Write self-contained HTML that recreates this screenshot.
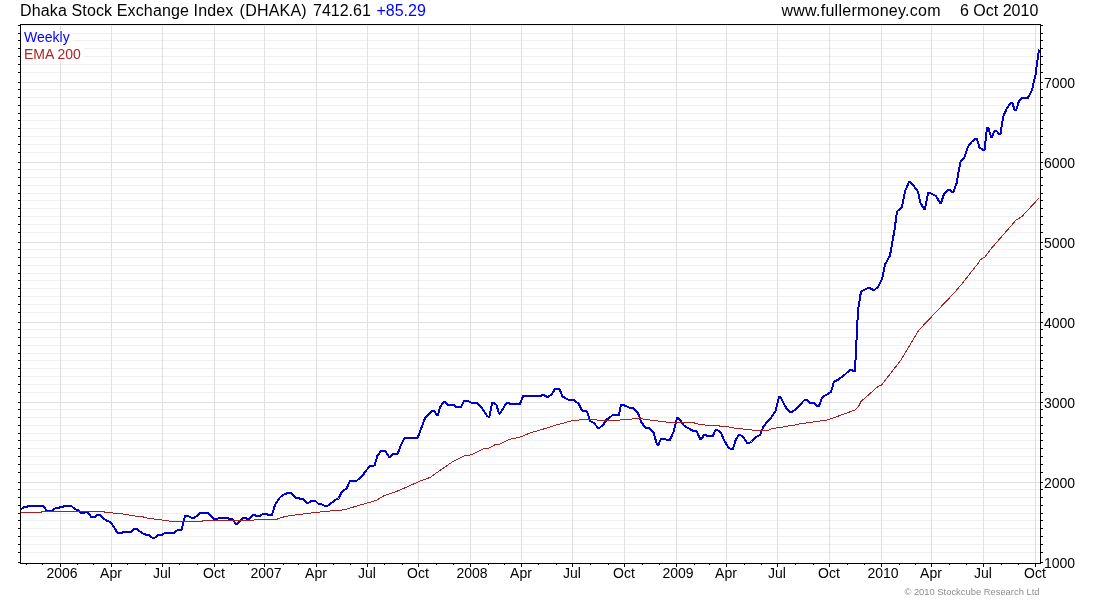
<!DOCTYPE html>
<html lang="en"><head><meta charset="utf-8"><title>Dhaka Stock Exchange Index (DHAKA)</title>
<style>html,body{margin:0;padding:0;background:#fff}body{width:1100px;height:600px;overflow:hidden}svg{display:block}text{font-family:"Liberation Sans",sans-serif}</style>
</head><body>
<svg width="1100" height="600" viewBox="0 0 1100 600">
<rect width="1100" height="600" fill="#fff"/>
<g shape-rendering="crispEdges">
<g fill="#efefef">
<rect x="21" y="25" width="1019" height="1"/>
<rect x="21" y="33" width="1019" height="1"/>
<rect x="21" y="40" width="1019" height="1"/>
<rect x="21" y="48" width="1019" height="1"/>
<rect x="21" y="56" width="1019" height="1"/>
<rect x="21" y="64" width="1019" height="1"/>
<rect x="21" y="72" width="1019" height="1"/>
<rect x="21" y="89" width="1019" height="1"/>
<rect x="21" y="97" width="1019" height="1"/>
<rect x="21" y="105" width="1019" height="1"/>
<rect x="21" y="113" width="1019" height="1"/>
<rect x="21" y="120" width="1019" height="1"/>
<rect x="21" y="128" width="1019" height="1"/>
<rect x="21" y="136" width="1019" height="1"/>
<rect x="21" y="144" width="1019" height="1"/>
<rect x="21" y="152" width="1019" height="1"/>
<rect x="21" y="169" width="1019" height="1"/>
<rect x="21" y="177" width="1019" height="1"/>
<rect x="21" y="185" width="1019" height="1"/>
<rect x="21" y="193" width="1019" height="1"/>
<rect x="21" y="200" width="1019" height="1"/>
<rect x="21" y="208" width="1019" height="1"/>
<rect x="21" y="216" width="1019" height="1"/>
<rect x="21" y="224" width="1019" height="1"/>
<rect x="21" y="232" width="1019" height="1"/>
<rect x="21" y="249" width="1019" height="1"/>
<rect x="21" y="257" width="1019" height="1"/>
<rect x="21" y="265" width="1019" height="1"/>
<rect x="21" y="273" width="1019" height="1"/>
<rect x="21" y="280" width="1019" height="1"/>
<rect x="21" y="288" width="1019" height="1"/>
<rect x="21" y="296" width="1019" height="1"/>
<rect x="21" y="304" width="1019" height="1"/>
<rect x="21" y="312" width="1019" height="1"/>
<rect x="21" y="329" width="1019" height="1"/>
<rect x="21" y="337" width="1019" height="1"/>
<rect x="21" y="345" width="1019" height="1"/>
<rect x="21" y="353" width="1019" height="1"/>
<rect x="21" y="360" width="1019" height="1"/>
<rect x="21" y="368" width="1019" height="1"/>
<rect x="21" y="376" width="1019" height="1"/>
<rect x="21" y="384" width="1019" height="1"/>
<rect x="21" y="392" width="1019" height="1"/>
<rect x="21" y="409" width="1019" height="1"/>
<rect x="21" y="417" width="1019" height="1"/>
<rect x="21" y="425" width="1019" height="1"/>
<rect x="21" y="433" width="1019" height="1"/>
<rect x="21" y="440" width="1019" height="1"/>
<rect x="21" y="448" width="1019" height="1"/>
<rect x="21" y="456" width="1019" height="1"/>
<rect x="21" y="464" width="1019" height="1"/>
<rect x="21" y="472" width="1019" height="1"/>
<rect x="21" y="489" width="1019" height="1"/>
<rect x="21" y="497" width="1019" height="1"/>
<rect x="21" y="505" width="1019" height="1"/>
<rect x="21" y="513" width="1019" height="1"/>
<rect x="21" y="520" width="1019" height="1"/>
<rect x="21" y="528" width="1019" height="1"/>
<rect x="21" y="536" width="1019" height="1"/>
<rect x="21" y="544" width="1019" height="1"/>
<rect x="21" y="552" width="1019" height="1"/>
</g><g fill="#e2e2e2">
<rect x="21" y="82" width="1019" height="1"/>
<rect x="21" y="162" width="1019" height="1"/>
<rect x="21" y="242" width="1019" height="1"/>
<rect x="21" y="322" width="1019" height="1"/>
<rect x="21" y="402" width="1019" height="1"/>
<rect x="21" y="482" width="1019" height="1"/>
</g><g fill="#e0e0e0">
<rect x="60" y="25" width="1" height="537"/>
<rect x="111" y="25" width="1" height="537"/>
<rect x="162" y="25" width="1" height="537"/>
<rect x="214" y="25" width="1" height="537"/>
<rect x="264" y="25" width="1" height="537"/>
<rect x="316" y="25" width="1" height="537"/>
<rect x="367" y="25" width="1" height="537"/>
<rect x="418" y="25" width="1" height="537"/>
<rect x="470" y="25" width="1" height="537"/>
<rect x="521" y="25" width="1" height="537"/>
<rect x="572" y="25" width="1" height="537"/>
<rect x="624" y="25" width="1" height="537"/>
<rect x="676" y="25" width="1" height="537"/>
<rect x="726" y="25" width="1" height="537"/>
<rect x="777" y="25" width="1" height="537"/>
<rect x="829" y="25" width="1" height="537"/>
<rect x="881" y="25" width="1" height="537"/>
<rect x="931" y="25" width="1" height="537"/>
<rect x="983" y="25" width="1" height="537"/>
<rect x="1035" y="25" width="1" height="537"/>
</g>
<rect x="22" y="30" width="51" height="14" fill="#fff"/>
<rect x="22" y="46" width="62" height="15" fill="#fff"/>
<g fill="#000">
<rect x="20" y="24" width="1021" height="1"/>
<rect x="20" y="563" width="1021" height="1"/>
<rect x="20" y="24" width="1" height="540"/>
<rect x="1040" y="24" width="1" height="540"/>
<rect x="18" y="25" width="2" height="1"/>
<rect x="1041" y="25" width="2" height="1"/>
<rect x="18" y="33" width="2" height="1"/>
<rect x="1041" y="33" width="2" height="1"/>
<rect x="18" y="40" width="2" height="1"/>
<rect x="1041" y="40" width="2" height="1"/>
<rect x="18" y="48" width="2" height="1"/>
<rect x="1041" y="48" width="2" height="1"/>
<rect x="18" y="56" width="2" height="1"/>
<rect x="1041" y="56" width="2" height="1"/>
<rect x="18" y="64" width="2" height="1"/>
<rect x="1041" y="64" width="2" height="1"/>
<rect x="18" y="72" width="2" height="1"/>
<rect x="1041" y="72" width="2" height="1"/>
<rect x="18" y="89" width="2" height="1"/>
<rect x="1041" y="89" width="2" height="1"/>
<rect x="18" y="97" width="2" height="1"/>
<rect x="1041" y="97" width="2" height="1"/>
<rect x="18" y="105" width="2" height="1"/>
<rect x="1041" y="105" width="2" height="1"/>
<rect x="18" y="113" width="2" height="1"/>
<rect x="1041" y="113" width="2" height="1"/>
<rect x="18" y="120" width="2" height="1"/>
<rect x="1041" y="120" width="2" height="1"/>
<rect x="18" y="128" width="2" height="1"/>
<rect x="1041" y="128" width="2" height="1"/>
<rect x="18" y="136" width="2" height="1"/>
<rect x="1041" y="136" width="2" height="1"/>
<rect x="18" y="144" width="2" height="1"/>
<rect x="1041" y="144" width="2" height="1"/>
<rect x="18" y="152" width="2" height="1"/>
<rect x="1041" y="152" width="2" height="1"/>
<rect x="18" y="169" width="2" height="1"/>
<rect x="1041" y="169" width="2" height="1"/>
<rect x="18" y="177" width="2" height="1"/>
<rect x="1041" y="177" width="2" height="1"/>
<rect x="18" y="185" width="2" height="1"/>
<rect x="1041" y="185" width="2" height="1"/>
<rect x="18" y="193" width="2" height="1"/>
<rect x="1041" y="193" width="2" height="1"/>
<rect x="18" y="200" width="2" height="1"/>
<rect x="1041" y="200" width="2" height="1"/>
<rect x="18" y="208" width="2" height="1"/>
<rect x="1041" y="208" width="2" height="1"/>
<rect x="18" y="216" width="2" height="1"/>
<rect x="1041" y="216" width="2" height="1"/>
<rect x="18" y="224" width="2" height="1"/>
<rect x="1041" y="224" width="2" height="1"/>
<rect x="18" y="232" width="2" height="1"/>
<rect x="1041" y="232" width="2" height="1"/>
<rect x="18" y="249" width="2" height="1"/>
<rect x="1041" y="249" width="2" height="1"/>
<rect x="18" y="257" width="2" height="1"/>
<rect x="1041" y="257" width="2" height="1"/>
<rect x="18" y="265" width="2" height="1"/>
<rect x="1041" y="265" width="2" height="1"/>
<rect x="18" y="273" width="2" height="1"/>
<rect x="1041" y="273" width="2" height="1"/>
<rect x="18" y="280" width="2" height="1"/>
<rect x="1041" y="280" width="2" height="1"/>
<rect x="18" y="288" width="2" height="1"/>
<rect x="1041" y="288" width="2" height="1"/>
<rect x="18" y="296" width="2" height="1"/>
<rect x="1041" y="296" width="2" height="1"/>
<rect x="18" y="304" width="2" height="1"/>
<rect x="1041" y="304" width="2" height="1"/>
<rect x="18" y="312" width="2" height="1"/>
<rect x="1041" y="312" width="2" height="1"/>
<rect x="18" y="329" width="2" height="1"/>
<rect x="1041" y="329" width="2" height="1"/>
<rect x="18" y="337" width="2" height="1"/>
<rect x="1041" y="337" width="2" height="1"/>
<rect x="18" y="345" width="2" height="1"/>
<rect x="1041" y="345" width="2" height="1"/>
<rect x="18" y="353" width="2" height="1"/>
<rect x="1041" y="353" width="2" height="1"/>
<rect x="18" y="360" width="2" height="1"/>
<rect x="1041" y="360" width="2" height="1"/>
<rect x="18" y="368" width="2" height="1"/>
<rect x="1041" y="368" width="2" height="1"/>
<rect x="18" y="376" width="2" height="1"/>
<rect x="1041" y="376" width="2" height="1"/>
<rect x="18" y="384" width="2" height="1"/>
<rect x="1041" y="384" width="2" height="1"/>
<rect x="18" y="392" width="2" height="1"/>
<rect x="1041" y="392" width="2" height="1"/>
<rect x="18" y="409" width="2" height="1"/>
<rect x="1041" y="409" width="2" height="1"/>
<rect x="18" y="417" width="2" height="1"/>
<rect x="1041" y="417" width="2" height="1"/>
<rect x="18" y="425" width="2" height="1"/>
<rect x="1041" y="425" width="2" height="1"/>
<rect x="18" y="433" width="2" height="1"/>
<rect x="1041" y="433" width="2" height="1"/>
<rect x="18" y="440" width="2" height="1"/>
<rect x="1041" y="440" width="2" height="1"/>
<rect x="18" y="448" width="2" height="1"/>
<rect x="1041" y="448" width="2" height="1"/>
<rect x="18" y="456" width="2" height="1"/>
<rect x="1041" y="456" width="2" height="1"/>
<rect x="18" y="464" width="2" height="1"/>
<rect x="1041" y="464" width="2" height="1"/>
<rect x="18" y="472" width="2" height="1"/>
<rect x="1041" y="472" width="2" height="1"/>
<rect x="18" y="489" width="2" height="1"/>
<rect x="1041" y="489" width="2" height="1"/>
<rect x="18" y="497" width="2" height="1"/>
<rect x="1041" y="497" width="2" height="1"/>
<rect x="18" y="505" width="2" height="1"/>
<rect x="1041" y="505" width="2" height="1"/>
<rect x="18" y="513" width="2" height="1"/>
<rect x="1041" y="513" width="2" height="1"/>
<rect x="18" y="520" width="2" height="1"/>
<rect x="1041" y="520" width="2" height="1"/>
<rect x="18" y="528" width="2" height="1"/>
<rect x="1041" y="528" width="2" height="1"/>
<rect x="18" y="536" width="2" height="1"/>
<rect x="1041" y="536" width="2" height="1"/>
<rect x="18" y="544" width="2" height="1"/>
<rect x="1041" y="544" width="2" height="1"/>
<rect x="18" y="552" width="2" height="1"/>
<rect x="1041" y="552" width="2" height="1"/>
<rect x="18" y="82" width="2" height="1"/>
<rect x="1041" y="82" width="2" height="1"/>
<rect x="18" y="162" width="2" height="1"/>
<rect x="1041" y="162" width="2" height="1"/>
<rect x="18" y="242" width="2" height="1"/>
<rect x="1041" y="242" width="2" height="1"/>
<rect x="18" y="322" width="2" height="1"/>
<rect x="1041" y="322" width="2" height="1"/>
<rect x="18" y="402" width="2" height="1"/>
<rect x="1041" y="402" width="2" height="1"/>
<rect x="18" y="482" width="2" height="1"/>
<rect x="1041" y="482" width="2" height="1"/>
<rect x="18" y="562" width="2" height="1"/>
<rect x="1041" y="562" width="2" height="1"/>
<rect x="26" y="564" width="1" height="1"/>
<rect x="42" y="564" width="1" height="1"/>
<rect x="77" y="564" width="1" height="1"/>
<rect x="93" y="564" width="1" height="1"/>
<rect x="127" y="564" width="1" height="1"/>
<rect x="145" y="564" width="1" height="1"/>
<rect x="179" y="564" width="1" height="1"/>
<rect x="197" y="564" width="1" height="1"/>
<rect x="231" y="564" width="1" height="1"/>
<rect x="248" y="564" width="1" height="1"/>
<rect x="283" y="564" width="1" height="1"/>
<rect x="298" y="564" width="1" height="1"/>
<rect x="333" y="564" width="1" height="1"/>
<rect x="350" y="564" width="1" height="1"/>
<rect x="384" y="564" width="1" height="1"/>
<rect x="402" y="564" width="1" height="1"/>
<rect x="436" y="564" width="1" height="1"/>
<rect x="453" y="564" width="1" height="1"/>
<rect x="488" y="564" width="1" height="1"/>
<rect x="504" y="564" width="1" height="1"/>
<rect x="538" y="564" width="1" height="1"/>
<rect x="556" y="564" width="1" height="1"/>
<rect x="590" y="564" width="1" height="1"/>
<rect x="608" y="564" width="1" height="1"/>
<rect x="642" y="564" width="1" height="1"/>
<rect x="659" y="564" width="1" height="1"/>
<rect x="694" y="564" width="1" height="1"/>
<rect x="709" y="564" width="1" height="1"/>
<rect x="744" y="564" width="1" height="1"/>
<rect x="761" y="564" width="1" height="1"/>
<rect x="795" y="564" width="1" height="1"/>
<rect x="813" y="564" width="1" height="1"/>
<rect x="847" y="564" width="1" height="1"/>
<rect x="864" y="564" width="1" height="1"/>
<rect x="899" y="564" width="1" height="1"/>
<rect x="915" y="564" width="1" height="1"/>
<rect x="949" y="564" width="1" height="1"/>
<rect x="966" y="564" width="1" height="1"/>
<rect x="1001" y="564" width="1" height="1"/>
<rect x="1018" y="564" width="1" height="1"/>
<rect x="60" y="564" width="1" height="3"/>
<rect x="111" y="564" width="1" height="3"/>
<rect x="162" y="564" width="1" height="3"/>
<rect x="214" y="564" width="1" height="3"/>
<rect x="264" y="564" width="1" height="3"/>
<rect x="316" y="564" width="1" height="3"/>
<rect x="367" y="564" width="1" height="3"/>
<rect x="418" y="564" width="1" height="3"/>
<rect x="470" y="564" width="1" height="3"/>
<rect x="521" y="564" width="1" height="3"/>
<rect x="572" y="564" width="1" height="3"/>
<rect x="624" y="564" width="1" height="3"/>
<rect x="676" y="564" width="1" height="3"/>
<rect x="726" y="564" width="1" height="3"/>
<rect x="777" y="564" width="1" height="3"/>
<rect x="829" y="564" width="1" height="3"/>
<rect x="881" y="564" width="1" height="3"/>
<rect x="931" y="564" width="1" height="3"/>
<rect x="983" y="564" width="1" height="3"/>
<rect x="1035" y="564" width="1" height="3"/>
</g>
<polyline points="21,509.5 24,506.8 27.5,506.8 28,506 43.5,506 46.5,510.5 52.5,510.5 55.5,508.2 59,508 60.5,507 63.5,506.8 64,506 71.5,506 75,509.3 79,510.5 81,512.8 84,513 86.5,512 88,512.5 91,516.8 95,516.8 97.5,514.8 99.5,514.8 105.5,520 111,522.5 117.5,533 122,533 123,532 131,532 133.5,529 136.5,529 142,533 146,534.8 149,535 152.5,538 154.5,538 158,535 162,535 164.5,533 174,533 177.5,530 181.5,529.8 183.5,522 185,516.2 188,516 192,518 194,518 200.5,513 208,513 214,519 217,519.2 218.5,518 227.5,518 229,519 232.5,519 236,524 237.5,524 241.5,519 243.5,518 246,518 247.5,519 249,519 252.5,515 255,515 256.5,516 260,516 262.5,514 267,514 268.5,515 272,515 275,505 279,498.5 281,496.5 284,494.5 288,493 291,493.2 296,498 299,498 300.5,499 303,499 307,503 308.5,502.8 311,501 315.5,501 318.5,504 321,504 324.5,505.8 328.5,505.5 335,500 338.5,498.5 342,491.5 346.5,488.5 350,481 357,480.5 363,475 366,470.5 370.5,465.8 374.5,465.5 377.5,455.5 381,451 385,450.5 389,457 390.5,456.8 393,454 397.5,454 401,445 404.5,438 417.5,438 421,429 425,418 432,411 434,411 437,415 438,414.8 440,407 443.5,402 445.5,402.2 448,404.8 453.5,404.8 456,407 461,407 464,401 468,400.8 470.5,402.5 477,402.8 482,408 487.5,416.5 489.5,416.5 492,403 494,403 496.5,405 499,413.5 500,413.5 506.5,403 508.5,402.8 510,403.8 520,403.8 523,396.2 541,396 542,395 544,395 547,397 548,397 551.5,394.5 555,389 559.5,389 562.5,396.5 568.5,399.8 573.5,400 578.5,403.5 582,410.5 586.5,411.2 587,411.5 590,421 594,423 598,428 599.5,427.8 603,425 607,419 608.5,418.8 612,415.5 614,414.8 619,414.8 621,405 623.5,405 629,407.5 633,407.8 638,413 641,421.5 645,427.5 648.5,427.8 653.5,432.5 657,444.5 658.5,444.5 661,439 664.5,438.8 666.5,439.8 670,439.8 673.5,432 677,418 678.5,418 684,425.5 688,428 693,430.8 696.5,431 700,438.8 701.5,438.8 704,435 706,435 707.5,436 713,435.8 715.5,430 717.5,430 721,433 724.5,441 728.5,447.5 731,449 733,449 736,439 739,435 740.5,435 744,438 747,443 749,443 751.5,441.5 756,437 760,435 763,427.5 767,422 772,416.5 775.5,411 779,397 780.5,397 784,404 787.5,410 790,411.8 792,411.8 796,409 804.5,400 807,400 810,403 813.5,403 817.5,406 819,406 822,397.5 826,395 831,392 834,381.5 838,379.8 845,374.5 850,369.8 852,369.8 853,370.8 855,370.8 855.5,360 857,330 858,310 861,291.5 864.5,289.8 868,288 870,288 873,290 874.5,289.8 878,287 882,279 884,270 885,264.5 890,255.5 894.5,230 897,211.5 902,207 905,191.5 909,182 910.5,182 918,191.5 920,202 924,209 925,209 928,193 930,193 936,196 940,203 941,203 944,194 948,189.8 949.5,189.8 952,192 953.5,192 957,182 958,175 960.5,162 964.5,157 968,146.5 972,141.5 975,139 977,139 979.5,147.5 983,150 984.5,150 987,128 988.5,128 991,137 992,136.8 994.5,131 996.5,131 999,133.8 1000.5,133.8 1003,118 1003.3,116.3 1006.7,108.7 1010.7,103 1012.3,103 1014.7,110 1016.3,110 1019,101 1022.3,97.7 1028,97.7 1032,90.3 1033.6,82.4 1035.6,74.4 1037.3,61.5 1039,49.5" fill="none" stroke="#0000cd" stroke-width="2" stroke-linejoin="round"/>
<polyline points="21,512.5 41,512.5 42,511.5 104,511.5 105,512.3 112,512.3 113,513.3 120,513.5 128.5,515 136.5,516.2 143.5,517 147.5,518.2 155.5,519.2 163.5,520.2 171.5,521.3 202,521.3 203,520.4 253,520.4 254.5,519.5 277,519.5 278,518.5 281.5,517.5 285.5,516.5 289.5,515.6 297.5,514.7 305.5,513.7 313.5,512.7 325,511.5 330,511 344,509.8 367,503 376,500.5 383,496.2 399,490.5 419,481.5 430,477.5 442,469 453,461.5 464,456 471,454.8 484,448.5 489,448.2 495.5,444.5 500,444.2 509,439.5 521,436.8 530,433 541,429.8 558,424.5 573,420.5 585,419.5 596,419.6 597,420.2 619.5,420.2 620.5,419.3 631.5,419.3 632.5,418.5 642.5,418.5 643.5,419.2 651.5,420.2 659.5,421.2 667.5,422.2 690,422.2 694.5,423 699,424.2 706.5,425.2 722.5,426.2 730.5,427.2 734.5,428.2 745.5,429.2 754,430.2 769,430.2 770,429.2 774,428.2 782,427.2 786,426.2 794,425.2 798,424.2 828,419.8 855,410 858.5,406.5 861,401.5 878,386.5 881.5,385 901,360 919,330 955,292 961,285 978,263.5 980,260 985,257 990,250 1014,222.5 1016,220 1022,216.5 1039,198" fill="none" stroke="#a52020" stroke-width="1"/>
</g>
<g font-size="16" fill="#000">
<text x="20" y="15.6" textLength="213.3">Dhaka Stock Exchange Index</text>
<text x="239.6" y="15.6" textLength="67">(DHAKA)</text>
<text x="313" y="15.6">7412.61</text>
<text x="376.4" y="15.6" fill="#0000ff">+85.29</text>
<text x="781.5" y="15.6" textLength="159">www.fullermoney.com</text>
<text x="960" y="15.6">6 Oct 2010</text>
</g>
<g font-size="14">
<text x="24" y="41.7" fill="#0000ff">Weekly</text>
<text x="24" y="58.8" fill="#b22222">EMA 200</text>
</g>
<g font-size="14" fill="#000">
<text x="1044" y="87.5">7000</text>
<text x="1044" y="167.5">6000</text>
<text x="1044" y="247.5">5000</text>
<text x="1044" y="327.5">4000</text>
<text x="1044" y="407.5">3000</text>
<text x="1044" y="487.5">2000</text>
<text x="1044" y="567.5">1000</text>
</g>
<g font-size="14" fill="#000" text-anchor="middle">
<text x="62.0" y="577.7">2006</text>
<text x="111.0" y="577.7">Apr</text>
<text x="162.0" y="577.7">Jul</text>
<text x="214.0" y="577.7">Oct</text>
<text x="266.0" y="577.7">2007</text>
<text x="316.0" y="577.7">Apr</text>
<text x="367.0" y="577.7">Jul</text>
<text x="418.0" y="577.7">Oct</text>
<text x="472.0" y="577.7">2008</text>
<text x="521.0" y="577.7">Apr</text>
<text x="572.0" y="577.7">Jul</text>
<text x="624.0" y="577.7">Oct</text>
<text x="678.0" y="577.7">2009</text>
<text x="726.0" y="577.7">Apr</text>
<text x="777.0" y="577.7">Jul</text>
<text x="829.0" y="577.7">Oct</text>
<text x="883.0" y="577.7">2010</text>
<text x="931.0" y="577.7">Apr</text>
<text x="983.0" y="577.7">Jul</text>
<text x="1035.0" y="577.7">Oct</text>
</g>
<text x="1039.5" y="595" font-size="9.4" fill="#8e8e8e" text-anchor="end">© 2010 Stockcube Research Ltd</text>
</svg></body></html>
